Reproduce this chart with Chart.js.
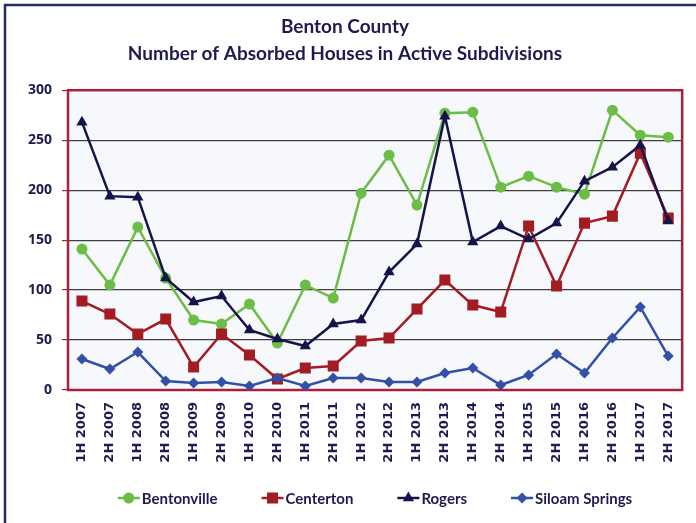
<!DOCTYPE html>
<html>
<head>
<meta charset="utf-8">
<script src="https://cdn.jsdelivr.net/npm/chart.js@4.4.1/dist/chart.umd.min.js"></script>
<style>
  html, body { margin: 0; padding: 0; background: #fff; }
</style>
</head>
<body>
<canvas id="absorbedChart" width="696" height="523"></canvas>
<script>
const labels = [
    '1H 2007', '2H 2007', '1H 2008', '2H 2008', '1H 2009', '2H 2009', '1H 2010',
    '2H 2010', '1H 2011', '2H 2011', '1H 2012', '2H 2012', '1H 2013', '2H 2013',
    '1H 2014', '2H 2014', '1H 2015', '2H 2015', '1H 2016', '2H 2016', '1H 2017', '2H 2017'
];
const bentonville = [141, 105, 163, 112, 70, 66, 86, 47, 105, 92, 197, 235, 185, 277, 278, 203, 214, 203, 196, 280, 255, 253];
const centerton   = [89, 76, 56, 71, 23, 56, 35, 11, 22, 24, 49, 52, 81, 110, 85, 78, 164, 104, 167, 174, 237, 172];
const rogers      = [268, 194, 193, 112, 88, 94, 60, 51, 44, 66, 70, 118, 146, 274, 148, 164, 151, 167, 209, 223, 245, 169];
const siloam      = [31, 21, 38, 9, 7, 8, 4, 12, 4, 12, 12, 8, 8, 17, 22, 5, 15, 36, 17, 52, 83, 34];
const yTicks = [0, 50, 100, 150, 200, 250, 300];

const navyText = '#1d1b4f';
const plotRed = '#a6213c';

// draws a legend entry marker
function marker(ctx, style, x, y, r) {
    ctx.beginPath();
    if (style === 'circle') {
        ctx.arc(x, y, r, 0, Math.PI * 2);
    } else if (style === 'rect') {
        const s = r * Math.SQRT1_2;
        ctx.rect(x - s, y - s, 2 * s, 2 * s);
    } else if (style === 'triangle') {
        ctx.moveTo(x, y - r);
        ctx.lineTo(x + r * 0.866, y + r * 0.5);
        ctx.lineTo(x - r * 0.866, y + r * 0.5);
        ctx.closePath();
    } else {
        ctx.moveTo(x, y - r);
        ctx.lineTo(x + r, y);
        ctx.lineTo(x, y + r);
        ctx.lineTo(x - r, y);
        ctx.closePath();
    }
    ctx.fill();
}

const framePlugin = {
    id: 'frame',
    beforeDraw(chart) {
        const { ctx, chartArea: a } = chart;
        ctx.save();
        ctx.fillStyle = '#ffffff';
        ctx.fillRect(0, 0, chart.width, chart.height);
        ctx.fillStyle = '#f7f8fc';
        ctx.fillRect(a.left, a.top, a.right - a.left, a.bottom - a.top);
        ctx.strokeStyle = '#232c5e';
        ctx.lineWidth = 2.5;
        ctx.strokeRect(5, 5, 800, 800);
        ctx.restore();
    },
    beforeDatasetsDraw(chart) {
        const { ctx, chartArea: a } = chart;
        ctx.save();
        ctx.strokeStyle = plotRed;
        ctx.lineWidth = 2.5;
        ctx.strokeRect(a.left, a.top, a.right - a.left, a.bottom - a.top);
        ctx.restore();
    },
    afterDraw(chart) {
        const ctx = chart.ctx;
        ctx.save();
        ctx.font = 'bold 15px Lato';
        ctx.textBaseline = 'middle';
        const lineW = 22, gapText = 2, gapItem = 44;
        const items = chart.data.datasets.map(ds => ({
            ds, w: lineW + gapText + ctx.measureText(ds.label).width
        }));
        const total = items.reduce((s, i) => s + i.w, 0) + gapItem * (items.length - 1);
        let x = 375 - total / 2;
        const y = 498;
        items.forEach(it => {
            ctx.strokeStyle = it.ds.borderColor;
            ctx.lineWidth = 2.5;
            ctx.beginPath();
            ctx.moveTo(x, y);
            ctx.lineTo(x + lineW, y);
            ctx.stroke();
            ctx.fillStyle = it.ds.pointBackgroundColor;
            marker(ctx, it.ds.pointStyle, x + lineW / 2, y, it.ds.pointRadius);
            ctx.fillStyle = navyText;
            ctx.fillText(it.ds.label, x + lineW + gapText, y + 1);
            x += it.w + gapItem;
        });
        ctx.restore();
    }
};

const series = (label, data, color, style, radius, order) => ({
    label: label,
    data: data,
    borderColor: color,
    backgroundColor: color,
    pointBackgroundColor: color,
    pointBorderColor: color,
    pointBorderWidth: 0,
    pointStyle: style,
    pointRadius: radius,
    borderWidth: 2.5,
    tension: 0,
    fill: false,
    order: order
});

new Chart(document.getElementById('absorbedChart'), {
    type: 'line',
    data: {
        labels: labels,
        datasets: [
            series('Bentonville', bentonville, '#6bbd45', 'circle', 5.5, 4),
            series('Centerton', centerton, '#a31c24', 'rect', 7.8, 3),
            series('Rogers', rogers, '#16124a', 'triangle', 6.5, 2),
            series('Siloam Springs', siloam, '#3150a6', 'rectRot', 5.5, 1)
        ]
    },
    options: {
        responsive: false,
        animation: false,
        layout: { padding: { left: 0, right: 6, top: 0, bottom: 0 } },
        plugins: {
            legend: { display: false },
            tooltip: { enabled: false },
            title: {
                display: true,
                text: ['Benton County', 'Number of Absorbed Houses in Active Subdivisions'],
                color: navyText,
                font: { family: 'Lato', size: 19, weight: 'bold', lineHeight: 1.4 },
                padding: { top: 14, bottom: 23 }
            }
        },
        scales: {
            x: {
                offset: true,
                grid: { display: false, drawTicks: false },
                border: { display: false },
                ticks: {
                    minRotation: 90,
                    maxRotation: 90,
                    padding: 12,
                    color: navyText,
                    font: { family: 'DejaVu Sans', size: 13, weight: 'bold' }
                },
                afterFit(scale) { scale.height = 133; }
            },
            y: {
                min: 0,
                max: 300,
                afterBuildTicks(scale) { scale.ticks = yTicks.map(v => ({ value: v })); },
                grid: {
                    color: c => (c.tick.value === 0 || c.tick.value === 300) ? 'rgba(0,0,0,0)' : '#3f3f3f',
                    lineWidth: 1.2,
                    tickColor: plotRed,
                    tickLength: 6
                },
                border: { display: false },
                ticks: {
                    padding: 10,
                    color: navyText,
                    font: { family: 'Open Sans', size: 14, weight: 'bold' }
                },
                afterFit(scale) { scale.width = 68; }
            }
        }
    },
    plugins: [framePlugin]
});
</script>
</body>
</html>
